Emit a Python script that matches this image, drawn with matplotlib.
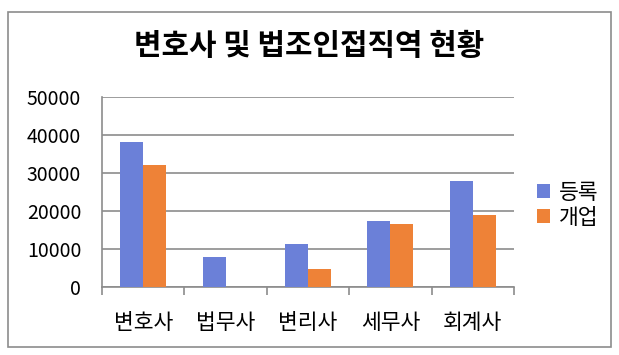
import numpy as np
import matplotlib
matplotlib.use("Agg")
from matplotlib import pyplot as plt
from matplotlib.patches import Rectangle

plt.rcParams['font.family'] = ['Noto Sans CJK KR', 'DejaVu Sans']

categories = ['변호사', '법무사', '변리사', '세무사', '회계사']
registered = [38100, 7900, 11300, 17300, 28000]
opened = [32000, 0, 4800, 16600, 18900]
y_ticks = [0, 10000, 20000, 30000, 40000, 50000]

blue = '#6B80D8'
orange = '#EE8237'
grid_color = '#8C8C8C'

fig = plt.figure(figsize=(6.19, 3.55), dpi=100)
ax = fig.add_axes([102 / 619, 1 - 287 / 355, (514 - 102) / 619, (287 - 97) / 355])

x = np.arange(len(categories))
w = 0.28
ax.bar(x - w / 2, registered, w, color=blue, label='등록', zorder=3)
ax.bar(x + w / 2, opened, w, color=orange, label='개업', zorder=3)

ax.set_xlim(-0.5, len(categories) - 0.5)
ax.set_ylim(0, 50000)
ax.set_yticks(y_ticks)
ax.set_yticklabels([str(v) for v in y_ticks], fontsize=14)
ax.tick_params(axis='y', length=0, pad=15)
ax.yaxis.grid(True, color=grid_color, linewidth=1.2, zorder=0)

# category labels centred, boundary ticks pointing down
ax.set_xticks(x)
ax.set_xticklabels(categories, fontsize=15.5)
ax.tick_params(axis='x', length=0, pad=18)
ax.set_xticks(np.arange(-0.5, len(categories)), minor=True)
ax.tick_params(axis='x', which='minor', length=6, width=1.2, color=grid_color, direction='out')

for side in ['top', 'right']:
    ax.spines[side].set_visible(False)
for side in ['left', 'bottom']:
    ax.spines[side].set_color(grid_color)
    ax.spines[side].set_linewidth(1.2)

ax.legend(loc='center left', bbox_to_anchor=(1.01, 0.43), frameon=False,
          fontsize=15.5, handlelength=0.6, handleheight=0.6, handletextpad=0.4,
          labelspacing=0.15)

fig.text(0.5, 1 - 46 / 355, '변호사 및 법조인접직역 현황', ha='center', va='center',
         fontsize=21.5, fontweight='bold')

fig.patches.append(Rectangle((8 / 619, 8 / 355), (611 - 8) / 619, (343 - 8) / 355,
                             transform=fig.transFigure, fill=False,
                             edgecolor='#8C8C8C', linewidth=1.2))

fig.savefig('out.png', dpi=100)
